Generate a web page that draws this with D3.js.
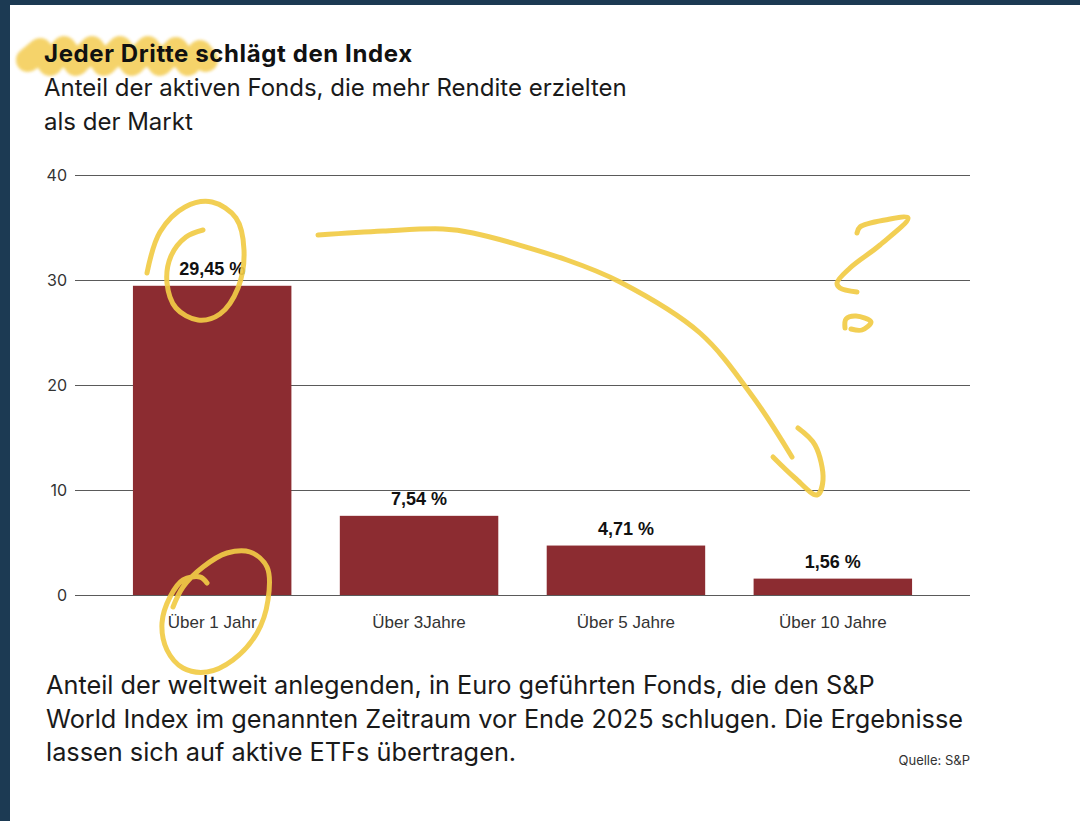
<!DOCTYPE html>
<html>
<head>
<meta charset="utf-8">
<script src="https://cdn.jsdelivr.net/npm/d3@7"></script>
<style>
  html, body { margin: 0; padding: 0; background: #1c3a53; }
  svg { display: block; }
</style>
</head>
<body>
<div class="viz"></div>
<script>
// chart data
var categories = ["Über 1 Jahr", "Über 3Jahre", "Über 5 Jahre", "Über 10 Jahre"];
var values = [29.45, 7.54, 4.71, 1.56];
var valueLabels = ["29,45 %", "7,54 %", "4,71 %", "1,56 %"];
var yTicks = [0, 10, 20, 30, 40];

var title = "Jeder Dritte schlägt den Index";
var subtitle = ["Anteil der aktiven Fonds, die mehr Rendite erzielten", "als der Markt"];
var footnote = [
    "Anteil der weltweit anlegenden, in Euro geführten Fonds, die den S&P",
    "World Index im genannten Zeitraum vor Ende 2025 schlugen. Die Ergebnisse",
    "lassen sich auf aktive ETFs übertragen."
];
var source = "Quelle: S&P";

var width = 1080,
    height = 821,
    plot = { left: 75, right: 970, top: 175, bottom: 595 };

var svg = d3.select('.viz').append('svg')
    .attr('width', width)
    .attr('height', height);

// screenshot frame
svg.append('rect')
    .attr('width', width)
    .attr('height', height)
    .attr('fill', '#1c3a53');
svg.append('rect')
    .attr('x', 10)
    .attr('y', 5)
    .attr('width', width - 10)
    .attr('height', height - 5)
    .attr('fill', '#ffffff');

var defs = svg.append('defs');
defs.append('filter')
    .attr('id', 'soft')
    .attr('filterUnits', 'userSpaceOnUse')
    .attr('x', 0).attr('y', 20)
    .attr('width', 260).attr('height', 80)
    .append('feGaussianBlur')
    .attr('stdDeviation', 1.6);

var yellow = '#f1cb45';
var pen = d3.line().curve(d3.curveCatmullRom.alpha(0.5));

// highlighter stroke behind the first words of the title
var highlight = [[28, 60], [40, 50], [50, 64], [64, 48], [76, 64], [92, 48], [104, 64],
    [120, 48], [132, 64], [148, 48], [160, 64], [176, 49], [188, 64], [200, 52], [206, 60]];
svg.append('path')
    .attr('d', d3.line()(highlight))
    .attr('fill', 'none')
    .attr('stroke', '#f4cf5a')
    .attr('stroke-width', 24)
    .attr('stroke-linejoin', 'round')
    .attr('stroke-linecap', 'round')
    .attr('opacity', 0.9)
    .attr('filter', 'url(#soft)');

// titles
svg.append('text')
    .attr('x', 44)
    .attr('y', 62)
    .style('font-family', 'Inter, "Noto Sans", sans-serif')
    .style('font-weight', 700)
    .style('font-size', '24px')
    .style('letter-spacing', '0.6px')
    .style('fill', '#111')
    .text(title);

svg.selectAll('.subtitle')
    .data(subtitle)
    .enter().append('text')
    .attr('class', 'subtitle')
    .attr('x', 44)
    .attr('y', function(d, i) { return 96 + i * 34; })
    .style('font-family', 'Inter, "Noto Sans", sans-serif')
    .style('font-size', '24px')
    .style('fill', '#1a1a1a')
    .text(function(d) { return d; });

// scales
var x = d3.scaleBand()
    .domain(categories)
    .range([plot.left, plot.right])
    .paddingInner(0.234)
    .paddingOuter(0.28);

var y = d3.scaleLinear()
    .domain([0, 40])
    .range([plot.bottom, plot.top]);

// gridlines + y labels
var yAxis = svg.append('g')
    .attr('transform', 'translate(' + plot.right + ',0)')
    .call(d3.axisLeft(y)
        .tickValues(yTicks)
        .tickSize(plot.right - plot.left)
        .tickPadding(8));
yAxis.select('.domain').remove();
yAxis.selectAll('.tick line')
    .attr('stroke', '#5a5a5a')
    .attr('stroke-width', 1);
yAxis.selectAll('.tick text')
    .style('font-family', 'Inter, "Noto Sans", sans-serif')
    .style('font-size', '16px')
    .style('fill', '#333');

// bars
svg.append('g')
    .selectAll('rect')
    .data(values)
    .enter().append('rect')
    .attr('x', function(d, i) { return x(categories[i]); })
    .attr('y', function(d) { return y(d); })
    .attr('width', x.bandwidth())
    .attr('height', function(d) { return y(0) - y(d); })
    .attr('fill', '#8c2c31');

// value labels
svg.append('g')
    .selectAll('text')
    .data(values)
    .enter().append('text')
    .attr('x', function(d, i) { return x(categories[i]) + x.bandwidth() / 2; })
    .attr('y', function(d) { return y(d) - 11; })
    .attr('text-anchor', 'middle')
    .style('font-family', '"Liberation Sans", Arial, sans-serif')
    .style('font-weight', 700)
    .style('font-size', '18px')
    .style('fill', '#111')
    .text(function(d, i) { return valueLabels[i]; });

// category labels
var xAxis = svg.append('g')
    .attr('transform', 'translate(0,' + plot.bottom + ')')
    .call(d3.axisBottom(x).tickSize(0).tickPadding(33));
xAxis.select('.domain').remove();
xAxis.selectAll('.tick text')
    .attr('dy', 0)
    .style('font-family', '"Liberation Sans", Arial, sans-serif')
    .style('font-size', '17px')
    .style('fill', '#333');

// footnote
svg.selectAll('.footnote')
    .data(footnote)
    .enter().append('text')
    .attr('class', 'footnote')
    .attr('x', 46)
    .attr('y', function(d, i) { return 694 + i * 33.5; })
    .style('font-family', 'Inter, "Noto Sans", sans-serif')
    .style('font-size', '25.3px')
    .style('fill', '#1a1a1a')
    .text(function(d) { return d; });

svg.append('text')
    .attr('x', plot.right)
    .attr('y', 765)
    .attr('text-anchor', 'end')
    .style('font-family', 'Inter, "Noto Sans", sans-serif')
    .style('font-size', '13px')
    .style('fill', '#333')
    .text(source);

// hand-drawn marks on top of the screenshot
var scribbles = [
    // spiral round the first value
    [[147, 273], [160, 232], [185, 207], [212, 202], [236, 218], [244, 250], [238, 288],
     [220, 314], [198, 320], [176, 308], [167, 283], [171, 256], [186, 237], [203, 230]],
    // loop round the first category
    [[207, 583], [200, 577], [183, 580], [170, 597], [162, 623], [167, 650], [183, 668],
     [207, 672], [233, 660], [257, 633], [268, 600], [267, 567], [250, 552], [227, 553],
     [203, 567], [183, 587], [173, 607]],
    // long arrow
    [[318, 235], [383, 231], [443, 229], [473, 233], [567, 260], [620, 282], [700, 333],
     [753, 397], [792, 457]],
    // arrow head
    [[773, 457], [795, 478], [817, 495], [823, 480], [815, 445], [798, 428]],
    // question mark
    [[857, 233], [860, 227], [885, 220], [908, 218], [880, 245], [850, 268], [837, 283],
     [840, 288], [857, 292]],
    // question mark dot
    [[845, 328], [846, 319], [856, 316], [871, 322], [862, 330], [851, 329]]
];

svg.append('g')
    .selectAll('path')
    .data(scribbles)
    .enter().append('path')
    .attr('d', function(d) { return pen(d); })
    .attr('fill', 'none')
    .attr('stroke', yellow)
    .attr('stroke-width', 5)
    .attr('stroke-linecap', 'round')
    .attr('stroke-linejoin', 'round')
    .attr('opacity', 0.92);
</script>
</body>
</html>
